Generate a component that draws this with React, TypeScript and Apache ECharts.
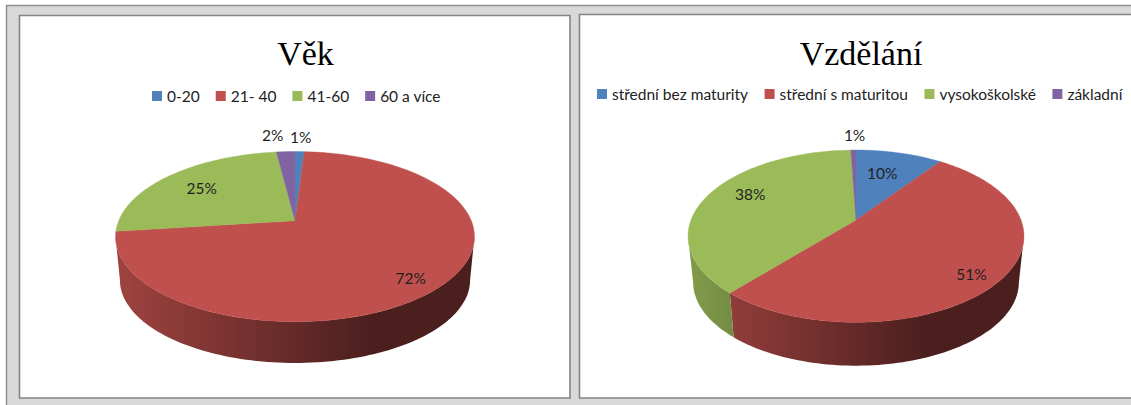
import React, { useEffect, useRef } from "react";
import * as echarts from "echarts";

const ageCategories = ["0-20", "21- 40", "41-60", "60 a více"];
const ageValues = [1, 72, 25, 2];
const eduCategories = ["střední bez maturity", "střední s maturitou", "vysokoškolské", "základní"];
const eduValues = [10, 51.4, 38, 0.6];
const colors = ["#4f81bd", "#c0504d", "#9bbb59", "#8064a2"];

// label placement on the disc: radius fraction and angular shift from the slice's middle
const ageLabelRadius = [1.26, 0.85, 0.712, 1.306];
const ageLabelShift = [0, 3.7, -1.1, -3.3];
const eduLabelRadius = [0.661, 0.853, 0.758, 1.265];
const eduLabelShift = [-2.4, 4.5, 6.5, 0.6];

const LABEL_FONT = "Lato";

type Geo = {
  cx: number; y0: number; R: number; S: number; p: number;
  y0b: number; Rb: number; Sb: number;
};
const ageGeo: Geo = { cx: 295, y0: 220.7, R: 176.3, S: 82.1, p: 0.1868, y0b: 264.6, Rb: 172, Sb: 80 };
const eduGeo: Geo = { cx: 856, y0: 220, R: 165, S: 83.1, p: 0.1874, y0b: 266.5, Rb: 160, Sb: 80.6 };

const rad = (d: number) => (d * Math.PI) / 180;

function project(cx: number, y0: number, R: number, S: number, p: number, rho: number, deg: number) {
  const u = rho * Math.sin(rad(deg));
  const v = -rho * Math.cos(rad(deg));
  const w = 1 - p * v;
  return [cx + (R * u) / w, y0 + (S * v) / w];
}
const topPt = (g: Geo, rho: number, deg: number) => project(g.cx, g.y0, g.R, g.S, g.p, rho, deg);
const botPt = (g: Geo, deg: number) => project(g.cx, g.y0b, g.Rb, g.Sb, g.p, 1, deg);

function ranges(values: number[]) {
  const total = values.reduce((a, b) => a + b, 0);
  let acc = 0;
  return values.map((v) => {
    const s = (acc / total) * 360;
    acc += v;
    return [s, (acc / total) * 360];
  });
}

function arcSamples(a: number, b: number) {
  const n = Math.max(2, Math.ceil((b - a) / 1.5));
  const out: number[] = [];
  for (let i = 0; i <= n; i++) out.push(a + ((b - a) * i) / n);
  return out;
}

function shade(hex: string, f: number) {
  const n = parseInt(hex.slice(1), 16);
  const c = [(n >> 16) & 255, (n >> 8) & 255, n & 255].map((x) => Math.round(x * f));
  return `rgb(${c[0]},${c[1]},${c[2]})`;
}

function buildSeries(prefix: string, cats: string[], vals: number[], g: Geo, lr: number[], ls: number[]) {
  const rs = ranges(vals);
  const sil = (Math.acos(-g.p) * 180) / Math.PI;
  const x1 = g.cx - g.Rb;
  const x2 = g.cx + g.Rb;
  const walls = {
    type: "custom",
    name: prefix + " boky",
    coordinateSystem: "none",
    silent: true,
    z: 1,
    data: vals,
    renderItem: (params: any) => {
      const i = params.dataIndex;
      const a = Math.max(rs[i][0], sil);
      const b = Math.min(rs[i][1], 360 - sil);
      if (b <= a) return { type: "group", children: [] };
      const ang = arcSamples(a, b);
      const pts = [...ang.map((d) => topPt(g, 1, d)), ...ang.slice().reverse().map((d) => botPt(g, d))];
      const fill = {
        type: "linear", global: true, x: x1, y: 0, x2, y2: 0,
        colorStops: [
          { offset: 0, color: shade(colors[i], 0.82) },
          { offset: 0.72, color: shade(colors[i], 0.39) },
          { offset: 1, color: shade(colors[i], 0.39) },
        ],
      };
      return { type: "polygon", shape: { points: pts }, style: { fill } };
    },
  };
  const slices = cats.map((name, i) => ({
    type: "custom",
    name,
    coordinateSystem: "none",
    silent: true,
    z: 2 + i,
    itemStyle: { color: colors[i] },
    data: [vals[i]],
    renderItem: () => {
      const ang = arcSamples(rs[i][0], rs[i][1]);
      const pts = [[...topPt(g, 0, 0)], ...ang.map((d) => topPt(g, 1, d))];
      const mid = (rs[i][0] + rs[i][1]) / 2 + ls[i];
      const lp = topPt(g, lr[i], mid);
      return {
        type: "group",
        children: [
          { type: "polygon", shape: { points: pts }, style: { fill: colors[i], stroke: colors[i], lineWidth: 0.4 } },
          {
            type: "text", x: lp[0], y: lp[1], z2: 10,
            style: {
              text: Math.round(vals[i]) + "%", fill: "#1f1f1f", fontSize: 15.5, fontFamily: LABEL_FONT,
              align: "center", verticalAlign: "middle",
            },
          },
        ],
      };
    },
  }));
  return [walls, ...slices];
}

const frameStroke = "#848484";
function frameRects() {
  const bg = "#d9d9d9";
  return [
    { type: "rect", z: -5, shape: { x: 6.5, y: 5.5, width: 1200, height: 500 }, style: { fill: bg, stroke: "#8f8f8f", lineWidth: 1.5 } },
    { type: "rect", z: -4, shape: { x: 19.5, y: 15.5, width: 550.5, height: 382.5 }, style: { fill: "#ffffff", stroke: frameStroke, lineWidth: 1.6 } },
    { type: "rect", z: -4, shape: { x: 579.5, y: 14.5, width: 700, height: 383.5 }, style: { fill: "#ffffff", stroke: frameStroke, lineWidth: 1.6 } },
  ];
}

export default function App() {
  const ref = useRef<HTMLDivElement>(null);
  useEffect(() => {
    document.body.style.margin = "0";
    const chart = echarts.init(ref.current!, undefined, { renderer: "svg" });
    chart.setOption({
      animation: false,
      backgroundColor: "#ffffff",
      title: [
        {
          text: "Věk", left: 300.5, top: 31, textAlign: "center",
          textStyle: { fontFamily: "Liberation Serif", fontSize: 34, fontWeight: "normal", color: "#000" },
        },
        {
          text: "Vzdělání", left: 856, top: 31, textAlign: "center",
          textStyle: { fontFamily: "Liberation Serif", fontSize: 34, fontWeight: "normal", color: "#000" },
        },
      ],
      legend: [
        {
          data: ageCategories, left: 152, top: 88, padding: 0, itemGap: 16, itemWidth: 10, itemHeight: 10,
          icon: "rect", selectedMode: false,
          textStyle: { fontFamily: LABEL_FONT, fontSize: 15.5, color: "#222" },
        },
        {
          data: eduCategories, left: 597, top: 86, padding: 0, itemGap: 16.5, itemWidth: 10, itemHeight: 10,
          icon: "rect", selectedMode: false,
          textStyle: { fontFamily: LABEL_FONT, fontSize: 15.5, color: "#222" },
        },
      ],
      graphic: frameRects(),
      series: [
        ...buildSeries("Věk", ageCategories, ageValues, ageGeo, ageLabelRadius, ageLabelShift),
        ...buildSeries("Vzdělání", eduCategories, eduValues, eduGeo, eduLabelRadius, eduLabelShift),
      ],
    });
    return () => chart.dispose();
  }, []);
  return <div ref={ref} style={{ position: "absolute", left: 0, top: 0, width: 1131, height: 405 }} />;
}
